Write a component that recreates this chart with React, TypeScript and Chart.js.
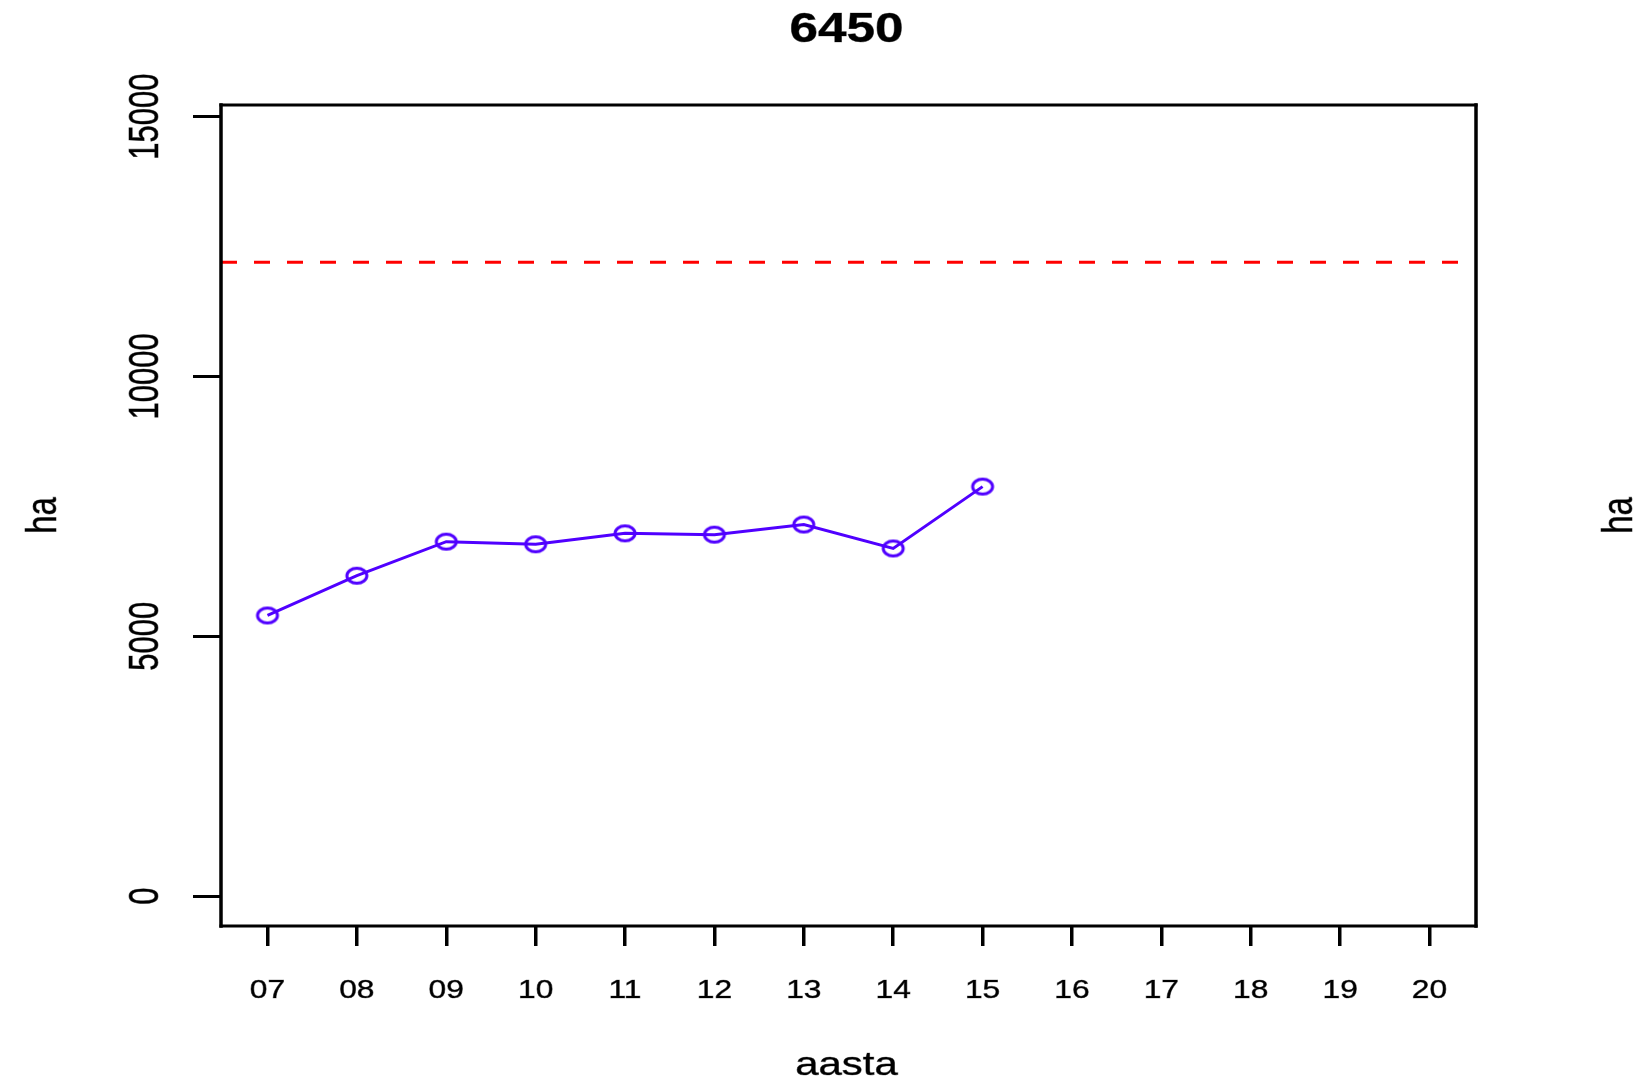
import { useEffect, useRef } from 'react';
import { Chart, registerables } from 'chart.js';

Chart.register(...registerables);

// ---- data ----
const chartTitle = '6450';
const xAxisTitle = 'aasta';
const yAxisTitle = 'ha';
const years = ['07', '08', '09', '10', '11', '12', '13', '14', '15'];
const areaHa = [5400, 6165, 6820, 6770, 6980, 6955, 7150, 6690, 7880];
const xTickLabels = ['07', '08', '09', '10', '11', '12', '13', '14', '15', '16', '17', '18', '19', '20'];
const yTickValues = [0, 5000, 10000, 15000];
const thresholdHa = 12200;

// ---- axis ranges (R style 4% extension) ----
const X_MIN = 6.48;
const X_MAX = 20.52;
const Y_MIN = -577;
const Y_MAX = 15225;

const LINE_COLOR = '#5000ff';
const FONT = '"Liberation Sans", Arial, Helvetica, sans-serif';

function makeEllipse(color: string): HTMLCanvasElement {
  const c = document.createElement('canvas');
  c.width = 28;
  c.height = 22;
  const g = c.getContext('2d')!;
  g.strokeStyle = color;
  g.lineWidth = 3;
  g.beginPath();
  g.ellipse(14, 11, 10, 7.5, 0, 0, Math.PI * 2);
  g.stroke();
  return c;
}

function drawText(
  ctx: CanvasRenderingContext2D,
  text: string,
  x: number,
  y: number,
  font: string,
  sx: number,
  rotate: boolean,
) {
  ctx.save();
  ctx.translate(x, y);
  ctx.scale(sx, 1);
  if (rotate) ctx.rotate(-Math.PI / 2);
  ctx.font = font;
  ctx.fillStyle = '#000';
  ctx.strokeStyle = 'rgba(0,0,0,0.55)';
  ctx.lineWidth = 0.7;
  ctx.textAlign = 'center';
  ctx.textBaseline = 'alphabetic';
  ctx.fillText(text, 0, 0);
  ctx.strokeText(text, 0, 0);
  ctx.restore();
}

const decorPlugin = {
  id: 'decor',
  afterDraw(chart: any) {
    const { ctx, chartArea: a, scales } = chart;
    const xs = scales.x;
    const ys = scales.y;
    ctx.save();
    // plot box
    ctx.strokeStyle = '#000';
    ctx.lineCap = 'square';
    ctx.lineWidth = 3;
    ctx.beginPath();
    ctx.moveTo(a.left, a.top);
    ctx.lineTo(a.right, a.top);
    ctx.moveTo(a.left, a.bottom);
    ctx.lineTo(a.right, a.bottom);
    ctx.stroke();
    ctx.lineWidth = 3.5;
    ctx.beginPath();
    ctx.moveTo(a.left, a.top);
    ctx.lineTo(a.left, a.bottom);
    ctx.moveTo(a.right, a.top);
    ctx.lineTo(a.right, a.bottom);
    ctx.stroke();
    ctx.restore();

    const cx = (a.left + a.right) / 2;
    const cy = (a.top + a.bottom) / 2;
    // title
    drawText(ctx, chartTitle, cx - 2, 42, `bold 42px ${FONT}`, 1.22, false);
    // x tick labels
    xs.ticks.forEach((t: any, i: number) => {
      drawText(ctx, xTickLabels[i], xs.getPixelForValue(t.value), 998, `25px ${FONT}`, 1.27, false);
    });
    // y tick labels
    ys.ticks.forEach((t: any) => {
      drawText(ctx, String(t.value), 158, ys.getPixelForValue(t.value), `31px ${FONT}`, 1.35, true);
    });
    // axis titles
    drawText(ctx, xAxisTitle, cx - 2, 1075, `33px ${FONT}`, 1.27, false);
    drawText(ctx, yAxisTitle, 56, cy, `33px ${FONT}`, 1.3, true);
    drawText(ctx, yAxisTitle, 1632, cy, `33px ${FONT}`, 1.3, true);
  },
};

export default function App() {
  const ref = useRef<HTMLCanvasElement | null>(null);

  useEffect(() => {
    if (!ref.current) return;
    const points = years.map((y, i) => ({ x: Number(y), y: areaHa[i] }));
    const chart = new Chart(ref.current, {
      type: 'line',
      data: {
        datasets: [
          {
            label: yAxisTitle,
            data: points,
            borderColor: LINE_COLOR,
            backgroundColor: 'transparent',
            borderWidth: 3,
            pointStyle: makeEllipse(LINE_COLOR) as any,
            pointRadius: 10,
            pointHoverRadius: 10,
            fill: false,
            tension: 0,
          },
          {
            label: 'threshold',
            data: [
              { x: X_MIN, y: thresholdHa },
              { x: X_MAX, y: thresholdHa },
            ],
            borderColor: '#ff0000',
            borderWidth: 3,
            borderDash: [16, 17],
            pointRadius: 0,
            fill: false,
          },
        ],
      },
      options: {
        animation: false,
        responsive: false,
        maintainAspectRatio: false,
        events: [],
        layout: { padding: { left: 0, top: 105, right: 171, bottom: 0 } },
        plugins: {
          legend: { display: false },
          title: { display: false },
          tooltip: { enabled: false },
        },
        scales: {
          x: {
            type: 'linear',
            min: X_MIN,
            max: X_MAX,
            afterBuildTicks: (s: any) => {
              s.ticks = xTickLabels.map((l) => ({ value: Number(l) }));
            },
            afterFit: (s: any) => {
              s.height = 154;
            },
            ticks: { display: false },
            grid: {
              display: true,
              drawOnChartArea: false,
              drawTicks: true,
              tickLength: 20,
              color: '#000',
              lineWidth: 3.5,
            },
            border: { display: false },
          },
          y: {
            type: 'linear',
            min: Y_MIN,
            max: Y_MAX,
            afterBuildTicks: (s: any) => {
              s.ticks = yTickValues.map((v) => ({ value: v }));
            },
            afterFit: (s: any) => {
              s.width = 221;
            },
            ticks: { display: false },
            grid: {
              display: true,
              drawOnChartArea: false,
              drawTicks: true,
              tickLength: 28,
              color: '#000',
              lineWidth: 3,
            },
            border: { display: false },
          },
        },
      },
      plugins: [decorPlugin],
    });
    return () => chart.destroy();
  }, []);

  return (
    <canvas
      ref={ref}
      width={1647}
      height={1080}
      style={{ position: 'fixed', left: 0, top: 0, width: 1647, height: 1080, background: '#fff' }}
    />
  );
}
